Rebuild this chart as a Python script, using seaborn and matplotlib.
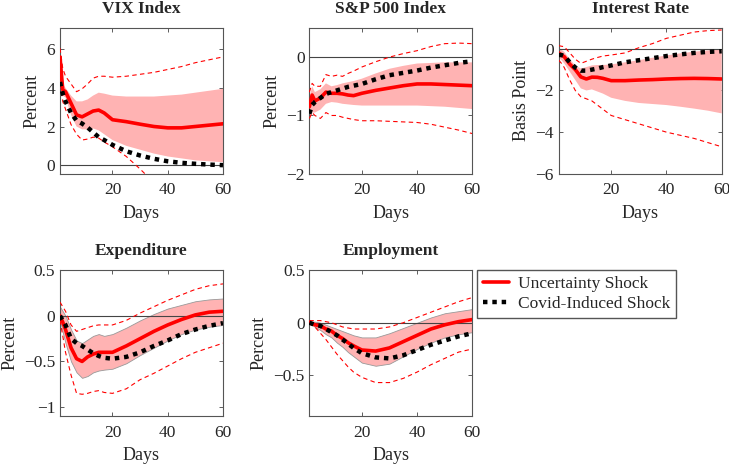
import matplotlib
matplotlib.use('Agg')
import matplotlib.pyplot as plt
import pandas as pd
import seaborn as sns

sns.set_style('ticks')
plt.rcParams['font.family'] = ['Liberation Serif', 'DejaVu Serif']

days = [1, 2, 3, 5, 7, 9, 11, 13, 15, 17, 20, 25, 30, 35, 40, 45, 50, 55, 60]

titles = ["VIX Index", "S&P 500 Index", "Interest Rate", "Expenditure", "Employment"]
ylabels = ["Percent", "Percent", "Basis Point", "Percent", "Percent"]
ylims = [(-0.45, 7.1), (-2, 0.5), (-6, 1), (-1.1, 0.5), (-0.89, 0.5)]
yticks = [[0, 2, 4, 6], [-2, -1, 0], [-6, -4, -2, 0], [-1, -0.5, 0, 0.5], [-0.5, 0, 0.5]]
yticklabels = [["0", "2", "4", "6"], ["\u22122", "\u22121", "0"], ["\u22126", "\u22124", "\u22122", "0"],
               ["\u22121", "\u22120.5", "0", "0.5"], ["\u22120.5", "0", "0.5"]]

# uncertainty shock (median, band, outer dashed bands)
unc = [
    [5.6, 3.9, 3.8, 3.2, 2.6, 2.5, 2.65, 2.8, 2.85, 2.7, 2.35, 2.25, 2.12, 2.0, 1.93, 1.93, 2.0, 2.07, 2.14],
    [-0.85, -0.65, -0.75, -0.7, -0.6, -0.62, -0.62, -0.63, -0.65, -0.66, -0.62, -0.57, -0.53, -0.49, -0.46, -0.46, -0.47, -0.48, -0.49],
    [-0.2, -0.3, -0.38, -0.74, -1.0, -1.35, -1.45, -1.36, -1.37, -1.42, -1.53, -1.53, -1.5, -1.48, -1.45, -1.43, -1.42, -1.43, -1.45],
    [0.0, -0.07, -0.15, -0.35, -0.47, -0.5, -0.45, -0.42, -0.4, -0.4, -0.4, -0.33, -0.25, -0.17, -0.1, -0.04, 0.01, 0.04, 0.05],
    [0.0, -0.01, -0.02, -0.03, -0.06, -0.08, -0.12, -0.15, -0.19, -0.22, -0.26, -0.27, -0.24, -0.18, -0.12, -0.06, -0.02, 0.01, 0.03],
]
band_hi = [
    [5.8, 4.2, 4.0, 3.6, 3.3, 3.3, 3.4, 3.6, 3.75, 3.7, 3.6, 3.55, 3.55, 3.55, 3.6, 3.65, 3.75, 3.85, 3.95],
    [-0.7, -0.5, -0.6, -0.55, -0.45, -0.5, -0.48, -0.45, -0.43, -0.41, -0.37, -0.28, -0.2, -0.15, -0.11, -0.1, -0.09, -0.09, -0.09],
    [0.05, -0.05, -0.15, -0.5, -0.8, -0.95, -0.88, -0.8, -0.78, -0.78, -0.75, -0.65, -0.55, -0.43, -0.32, -0.22, -0.14, -0.08, -0.03],
    [0.1, 0.05, 0.0, -0.15, -0.27, -0.3, -0.26, -0.22, -0.2, -0.22, -0.2, -0.13, -0.05, 0.02, 0.08, 0.12, 0.16, 0.18, 0.19],
    [0.01, 0.01, 0.01, 0.0, -0.02, -0.04, -0.06, -0.08, -0.1, -0.12, -0.14, -0.14, -0.1, -0.05, 0.0, 0.05, 0.09, 0.11, 0.13],
]
band_lo = [
    [5.2, 3.6, 3.5, 2.6, 2.0, 1.85, 1.85, 1.9, 1.8, 1.6, 1.3, 1.0, 0.8, 0.6, 0.45, 0.35, 0.25, 0.2, 0.15],
    [-1.1, -0.95, -0.95, -0.9, -0.8, -0.77, -0.78, -0.8, -0.81, -0.82, -0.83, -0.83, -0.83, -0.83, -0.83, -0.84, -0.85, -0.87, -0.89],
    [-0.4, -0.55, -0.7, -1.1, -1.5, -1.9, -2.0, -1.95, -2.05, -2.15, -2.35, -2.5, -2.6, -2.65, -2.7, -2.78, -2.87, -2.97, -3.1],
    [-0.05, -0.18, -0.3, -0.5, -0.62, -0.68, -0.66, -0.62, -0.6, -0.59, -0.58, -0.52, -0.43, -0.35, -0.27, -0.2, -0.15, -0.12, -0.1],
    [-0.01, -0.02, -0.04, -0.07, -0.11, -0.14, -0.19, -0.23, -0.28, -0.32, -0.38, -0.41, -0.39, -0.32, -0.25, -0.19, -0.14, -0.11, -0.09],
]
dash_hi = [
    [6.05, 5.0, 4.6, 4.2, 3.8, 3.95, 4.2, 4.5, 4.6, 4.6, 4.55, 4.6, 4.7, 4.8, 4.95, 5.1, 5.3, 5.45, 5.6],
    [-0.6, -0.45, -0.5, -0.5, -0.3, -0.33, -0.31, -0.33, -0.28, -0.24, -0.17, -0.08, 0.0, 0.06, 0.11, 0.18, 0.23, 0.24, 0.23],
    [0.15, 0.12, 0.1, -0.2, -0.5, -0.7, -0.6, -0.5, -0.42, -0.35, -0.3, -0.2, 0.05, 0.25, 0.5, 0.65, 0.8, 0.87, 0.9],
    [0.15, 0.1, 0.05, -0.1, -0.17, -0.15, -0.13, -0.11, -0.1, -0.1, -0.1, -0.05, 0.03, 0.1, 0.17, 0.23, 0.29, 0.33, 0.35],
    [0.02, 0.02, 0.02, 0.02, 0.01, 0.0, -0.02, -0.04, -0.05, -0.06, -0.06, -0.06, -0.04, 0.0, 0.05, 0.1, 0.15, 0.2, 0.24],
]
dash_lo = [
    [4.6, 3.3, 2.9, 2.1, 1.6, 1.3, 1.35, 1.45, 1.4, 1.2, 0.95, 0.45, -0.2, -0.9, -1.5, -2.0, -2.4, -2.8, -3.1],
    [-1.05, -0.95, -1.0, -1.05, -0.95, -1.0, -1.0, -1.03, -1.05, -1.07, -1.09, -1.09, -1.1, -1.11, -1.12, -1.15, -1.2, -1.25, -1.31],
    [-0.55, -0.7, -0.9, -1.5, -2.0, -2.3, -2.4, -2.5, -2.7, -2.9, -3.2, -3.4, -3.6, -3.8, -4.0, -4.15, -4.3, -4.5, -4.7],
    [-0.05, -0.22, -0.4, -0.65, -0.85, -0.86, -0.85, -0.83, -0.82, -0.84, -0.85, -0.8, -0.7, -0.63, -0.55, -0.47, -0.4, -0.35, -0.3],
    [0.0, -0.02, -0.04, -0.1, -0.16, -0.23, -0.3, -0.36, -0.42, -0.47, -0.52, -0.57, -0.57, -0.53, -0.47, -0.4, -0.34, -0.28, -0.25],
]
# covid-induced shock
covid = [
    [4.3, 3.7, 3.3, 2.7, 2.3, 2.15, 1.95, 1.7, 1.45, 1.3, 1.05, 0.72, 0.5, 0.33, 0.2, 0.12, 0.07, 0.03, 0.0],
    [-0.97, -0.82, -0.77, -0.7, -0.63, -0.6, -0.57, -0.54, -0.51, -0.49, -0.46, -0.38, -0.31, -0.27, -0.23, -0.18, -0.14, -0.1, -0.07],
    [-0.3, -0.3, -0.35, -0.65, -0.9, -1.05, -1.05, -1.0, -0.95, -0.88, -0.8, -0.65, -0.55, -0.45, -0.35, -0.27, -0.2, -0.15, -0.12],
    [0.0, -0.05, -0.1, -0.25, -0.3, -0.33, -0.37, -0.41, -0.44, -0.46, -0.47, -0.45, -0.4, -0.33, -0.27, -0.2, -0.15, -0.11, -0.08],
    [0.0, -0.01, -0.02, -0.03, -0.06, -0.09, -0.12, -0.16, -0.2, -0.24, -0.29, -0.33, -0.34, -0.31, -0.26, -0.21, -0.17, -0.13, -0.1],
]
band_edge = [False, False, False, True, True]

fig, axs = plt.subplots(2, 3, figsize=(7.29, 4.65), dpi=100)
fig.subplots_adjust(left=0.0823, right=0.990, top=0.94, bottom=0.105, wspace=0.53, hspace=0.66)
axs = axs.flatten()
axs[5].axis('off')

for i in range(5):
    ax = axs[i]
    df = pd.DataFrame({'day': days, 'unc': unc[i], 'lo': band_lo[i], 'hi': band_hi[i],
                       'dlo': dash_lo[i], 'dhi': dash_hi[i], 'covid': covid[i]})
    ax.fill_between(df['day'], df['lo'], df['hi'], color='#ffb3b3',
                    edgecolor='#999999' if band_edge[i] else 'none', linewidth=0.6, zorder=1)
    ax.axhline(0, color='#444444', lw=0.8, zorder=2)
    sns.lineplot(x='day', y='dhi', data=df, ax=ax, color='red', lw=0.8, linestyle=(0, (4, 3)), zorder=3)
    sns.lineplot(x='day', y='dlo', data=df, ax=ax, color='red', lw=0.8, linestyle=(0, (4, 3)), zorder=3)
    sns.lineplot(x='day', y='unc', data=df, ax=ax, color='red', lw=2.6, zorder=4, label='Uncertainty Shock')
    sns.lineplot(x='day', y='covid', data=df, ax=ax, color='black', lw=3.2,
                 linestyle=(0, (1, 1.1)), dash_capstyle='butt', zorder=5, label='Covid-Induced Shock')
    ax.get_legend().remove()

    ax.set_xlim(1, 60)
    ax.set_ylim(*ylims[i])
    ax.set_xticks([20, 40, 60])
    ax.set_yticks(yticks[i])
    ax.set_yticklabels(yticklabels[i])
    ax.set_title(titles[i], fontsize=12.5, fontweight='bold', pad=11)
    ax.set_xlabel("Days", fontsize=13, labelpad=5)
    ax.set_ylabel(ylabels[i], fontsize=13)
    ax.tick_params(direction='in', top=True, right=True, length=3, width=0.6,
                   color='#444444', labelsize=12.5)
    ax.tick_params(axis='x', pad=6)
    for s in ax.spines.values():
        s.set_color('#555555')
        s.set_linewidth(0.8)

handles, labels = axs[4].get_legend_handles_labels()
fig.legend(handles, labels, loc='upper left', bbox_to_anchor=(477 / 729, 1 - 270 / 465),
           fontsize=12.5, frameon=True, fancybox=False, edgecolor='#555555', framealpha=1,
           handlelength=1.5, borderpad=0.35, labelspacing=0.2, handletextpad=0.5, borderaxespad=0)

plt.savefig('out.png', dpi=100)
